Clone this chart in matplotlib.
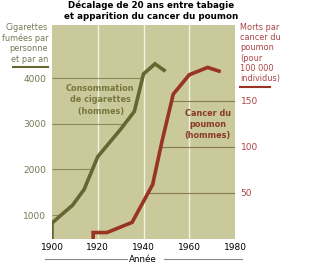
import numpy as np
import matplotlib.pyplot as plt

# cigarettes per person per year (men)
cig_years = [1900, 1900, 1909, 1914, 1920, 1925, 1930, 1936, 1940, 1945, 1949]
cig_vals = [480, 830, 1220, 1560, 2280, 2580, 2880, 3270, 4090, 4310, 4170]

# lung cancer deaths per 100 000 (men)
can_years = [1918, 1918, 1924, 1935, 1944, 1948, 1953, 1960, 1968, 1973]
can_vals = [0, 7, 7, 18, 59, 105, 157, 178, 186, 182]

left_ticks = [1000, 2000, 3000, 4000]
right_ticks = [50, 100, 150]
x_ticks = [1900, 1920, 1940, 1960, 1980]

green = '#666633'
red = '#993322'

fig = plt.figure(figsize=(3.1, 2.7), dpi=100)
ax = fig.add_axes([52/310, 1 - 239/270, 183/310, 214/270])
ax2 = ax.twinx()

ax.set_facecolor('#c9c99b')
ax.set_xlim(1900, 1980)
ax.set_ylim(480, 5160)
ax2.set_ylim(0, 232)

for x in x_ticks[1:-1]:
    ax.axvline(x, color='#f4f2dc', lw=1, zorder=1)

# reference lines from axis to curve
for v in left_ticks:
    xc = np.interp(v, cig_vals[1:9], cig_years[1:9])
    ax.hlines(v, 1900, xc, color='#8a8a5a', lw=0.8, zorder=2)
for v in right_ticks:
    xc = np.interp(v, can_vals[2:7], can_years[2:7])
    ax2.hlines(v, xc, 1980, color='#8a7a50', lw=0.8, zorder=2)

ax.plot(cig_years, cig_vals, color=green, lw=2.6, zorder=3, solid_joinstyle='miter')
ax2.plot(can_years, can_vals, color=red, lw=2.6, zorder=3, solid_joinstyle='miter')

ax.set_xticks(x_ticks)
ax.set_yticks(left_ticks)
ax2.set_yticks(right_ticks)
ax.tick_params(axis='x', length=0, labelsize=6.5, pad=3)
ax.tick_params(axis='y', length=0, labelsize=6.5, labelcolor='#777755', pad=4)
ax2.tick_params(axis='y', length=0, labelsize=6.5, labelcolor='#aa4444', pad=4)
for a in (ax, ax2):
    for s in a.spines.values():
        s.set_visible(False)

fig.text(151/310, 1 - 1/270, 'Décalage de 20 ans entre tabagie\net apparition du cancer du poumon',
         ha='center', va='top', fontsize=6.3, fontweight='bold', linespacing=1.15)

fig.text(48/310, 1 - 23/270, 'Cigarettes\nfumées par\npersonne\net par an',
         ha='right', va='top', fontsize=5.9, color='#777755', linespacing=1.2)
fig.add_artist(plt.Line2D([13/310, 48/310], [1 - 67/270] * 2, color=green, lw=1.5))

fig.text(240/310, 1 - 23/270, 'Morts par\ncancer du\npoumon\n(pour\n100 000\nindividus)',
         ha='left', va='top', fontsize=5.9, color='#aa4444', linespacing=1.17)
fig.add_artist(plt.Line2D([240/310, 270/310], [1 - 87/270] * 2, color=red, lw=1.5))

ax.text(1921, 3520, 'Consommation\nde cigarettes\n (hommes)', ha='center', va='center',
        fontsize=5.9, fontweight='bold', color='#77773f', linespacing=1.3)
ax2.text(1968, 124, 'Cancer du\npoumon\n(hommes)', ha='center', va='center',
         fontsize=5.9, fontweight='bold', color='#8a3a2a', linespacing=1.3)

fig.text(143/310, 1 - 259/270, 'Année', ha='center', va='center', fontsize=6.3)
fig.add_artist(plt.Line2D([45/310, 127/310], [1 - 259/270] * 2, color='#888888', lw=0.8))
fig.add_artist(plt.Line2D([164/310, 242/310], [1 - 259/270] * 2, color='#888888', lw=0.8))

fig.savefig('out.png', dpi=100)
